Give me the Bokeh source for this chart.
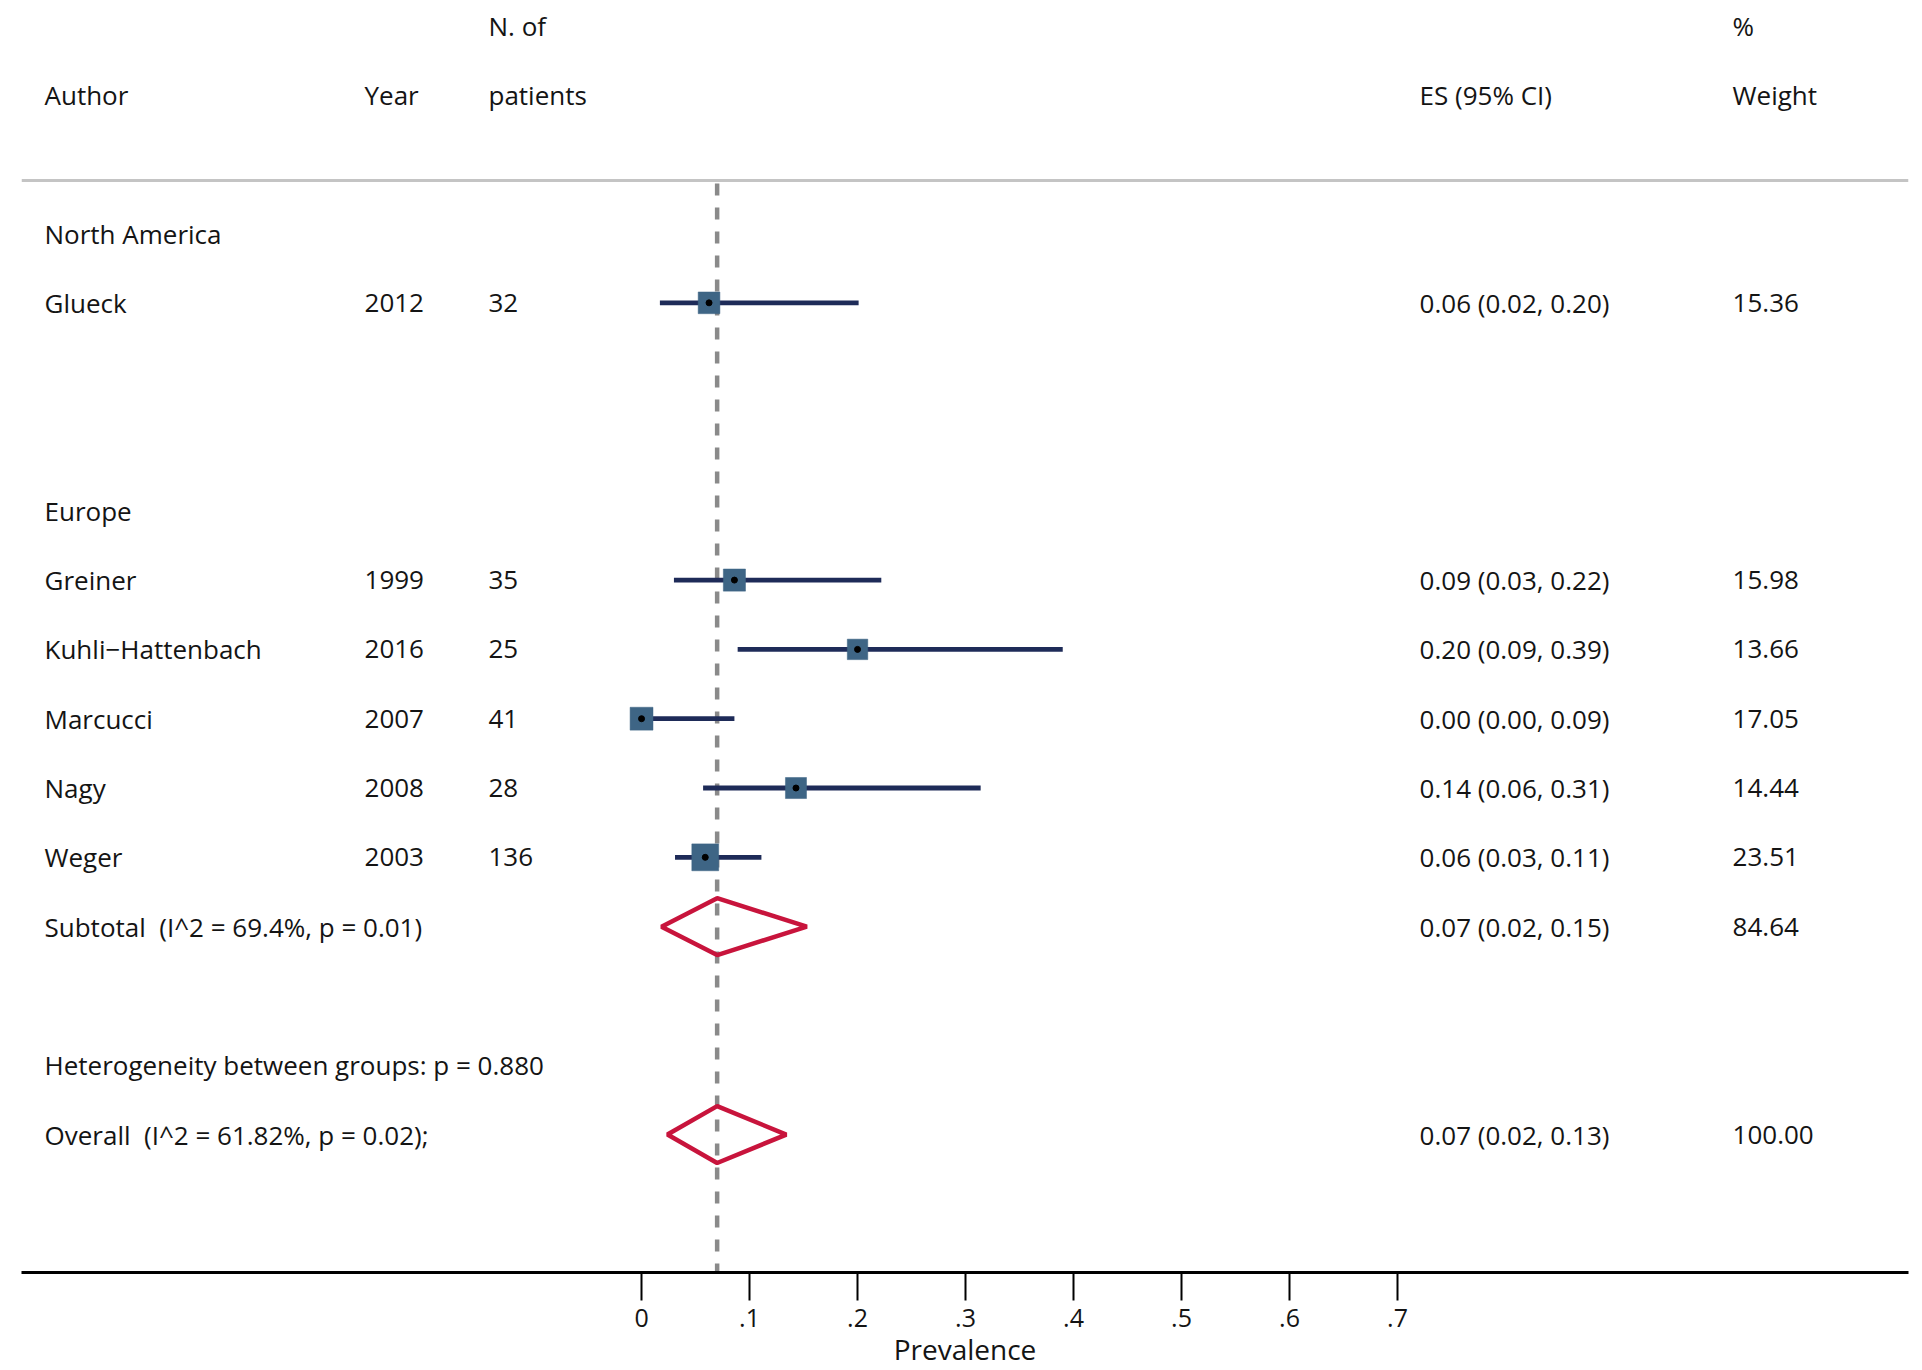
from bokeh.plotting import figure
from bokeh.models import Range1d, FixedTicker, Span, ColumnDataSource, LinearAxis
from bokeh.core.properties import value
from bokeh.embed import file_html
from bokeh.resources import INLINE

# ---- data ----
authors = ["Glueck", "Greiner", "Kuhli\u2212Hattenbach", "Marcucci", "Nagy", "Weger"]
regions = ["North America", "Europe", "Europe", "Europe", "Europe", "Europe"]
years = [2012, 1999, 2016, 2007, 2008, 2003]
n_patients = [32, 35, 25, 41, 28, 136]
es = [0.0625, 0.086, 0.200, 0.000, 0.143, 0.059]
ci_lo = [0.017, 0.030, 0.089, 0.000, 0.057, 0.031]
ci_hi = [0.201, 0.222, 0.390, 0.086, 0.314, 0.111]
weights = [15.36, 15.98, 13.66, 17.05, 14.44, 23.51]

sub_label = "Subtotal \u00a0(I^2 = 69.4%, p = 0.01)"
sub_es, sub_lo, sub_hi, sub_w = 0.07, 0.0185, 0.153, 84.64
het_label = "Heterogeneity between groups: p = 0.880"
ov_label = "Overall \u00a0(I^2 = 61.82%, p = 0.02);"
ov_es, ov_lo, ov_hi, ov_w = 0.07, 0.024, 0.134, 100.00

x_ticks = [0, 0.1, 0.2, 0.3, 0.4, 0.5, 0.6, 0.7]
x_tick_labels = ["0", ".1", ".2", ".3", ".4", ".5", ".6", ".7"]

# ---- layout ----
FONT = "Open Sans"
FS = "26px"
TXT = "#141414"
# column positions in data units (x = 0 at 641 px, 1080 px per unit)
col_author, col_year, col_n, col_es, col_w = -0.5528, -0.2565, -0.1417, 0.7204, 1.0102

study_rows = [1, 5, 6, 7, 8, 9]
region_rows = {"North America": 0, "Europe": 4}
sub_row, het_row, ov_row = 10, 12, 13

p = figure(width=1922, height=1370, output_backend="svg", toolbar_location=None,
           x_range=Range1d(-0.5741, 1.1731), y_range=Range1d(14.99, -3.362),
           min_border_left=21, min_border_right=14, min_border_top=0, min_border_bottom=98,
           outline_line_color=None, background_fill_color="white", border_fill_color="white")
p.xgrid.visible = False
p.ygrid.visible = False
p.yaxis.visible = False
p.xaxis.visible = False

ax = LinearAxis(ticker=FixedTicker(ticks=x_ticks),
                major_label_overrides={t: l for t, l in zip(x_ticks, x_tick_labels)})
ax.axis_line_width = 3
ax.axis_line_color = "black"
ax.major_tick_out = 28
ax.major_tick_in = 0
ax.major_tick_line_width = 2
ax.major_tick_line_color = "black"
ax.minor_tick_line_color = None
ax.major_label_text_font = FONT
ax.major_label_text_font_size = "25px"
ax.major_label_text_color = TXT
ax.major_label_standoff = 8
ax.axis_label = "Prevalence"
ax.axis_label_text_font = FONT
ax.axis_label_text_font_size = "28px"
ax.axis_label_text_font_style = "normal"
ax.axis_label_text_color = TXT
ax.axis_label_standoff = 0
p.add_layout(ax, "below")

# header separator
p.add_layout(Span(location=-0.765, dimension="width", line_color="#c4c4c4", line_width=3))

# reference (overall) dashed line
p.segment(x0=[ov_es], y0=[-0.72], x1=[ov_es], y1=[15.0], line_color="#8a8a8a",
          line_width=4.5, line_dash="12 12")

def txt(xs, ys, labels):
    p.text(x=xs, y=ys, text=labels, text_font=value(FONT), text_font_size=FS,
           text_color=TXT, text_align="left", text_baseline="middle")

# headers
txt([col_n, col_w], [-3, -3], ["N. of", "%"])
txt([col_author, col_year, col_n, col_es, col_w], [-2] * 5,
    ["Author", "Year", "patients", "ES (95% CI)", "Weight"])

# region headers
txt([col_author] * len(region_rows), list(region_rows.values()), list(region_rows.keys()))

# study rows
es_txt = [f"{e:.2f} ({l:.2f}, {h:.2f})" for e, l, h in zip(es, ci_lo, ci_hi)]
txt([col_author] * 6, study_rows, authors)
txt([col_year] * 6, study_rows, [str(y) for y in years])
txt([col_n] * 6, study_rows, [str(n) for n in n_patients])
txt([col_es] * 6, study_rows, es_txt)
txt([col_w] * 6, study_rows, [f"{w:.2f}" for w in weights])

# CIs and weighted squares
p.segment(x0=ci_lo, y0=study_rows, x1=ci_hi, y1=study_rows, line_color="#1e2b58", line_width=4.8)
src = ColumnDataSource(dict(x=es, y=study_rows, s=[5.54 * w ** 0.5 for w in weights]))
p.rect(x="x", y="y", width="s", height="s", width_units="screen", height_units="screen",
       source=src, fill_color="#3e6585", line_color="#3e6585", line_width=0.5)
p.scatter(x=es, y=study_rows, size=6, color="black")

# subtotal and overall
txt([col_author, col_es, col_w], [sub_row] * 3,
    [sub_label, f"{sub_es:.2f} ({sub_lo:.2f}, {sub_hi:.2f})", f"{sub_w:.2f}"])
txt([col_author], [het_row], [het_label])
txt([col_author, col_es, col_w], [ov_row] * 3,
    [ov_label, f"{ov_es:.2f} ({ov_lo:.2f}, {ov_hi:.2f})", f"{ov_w:.2f}"])

hh = 0.41
p.patches(xs=[[sub_lo, sub_es, sub_hi, sub_es], [ov_lo, ov_es, ov_hi, ov_es]],
          ys=[[sub_row, sub_row - hh, sub_row, sub_row + hh], [ov_row, ov_row - hh, ov_row, ov_row + hh]],
          fill_color=None, line_color="#c8143c", line_width=4.5)

open("out.html", "w").write(file_html(p, INLINE))
